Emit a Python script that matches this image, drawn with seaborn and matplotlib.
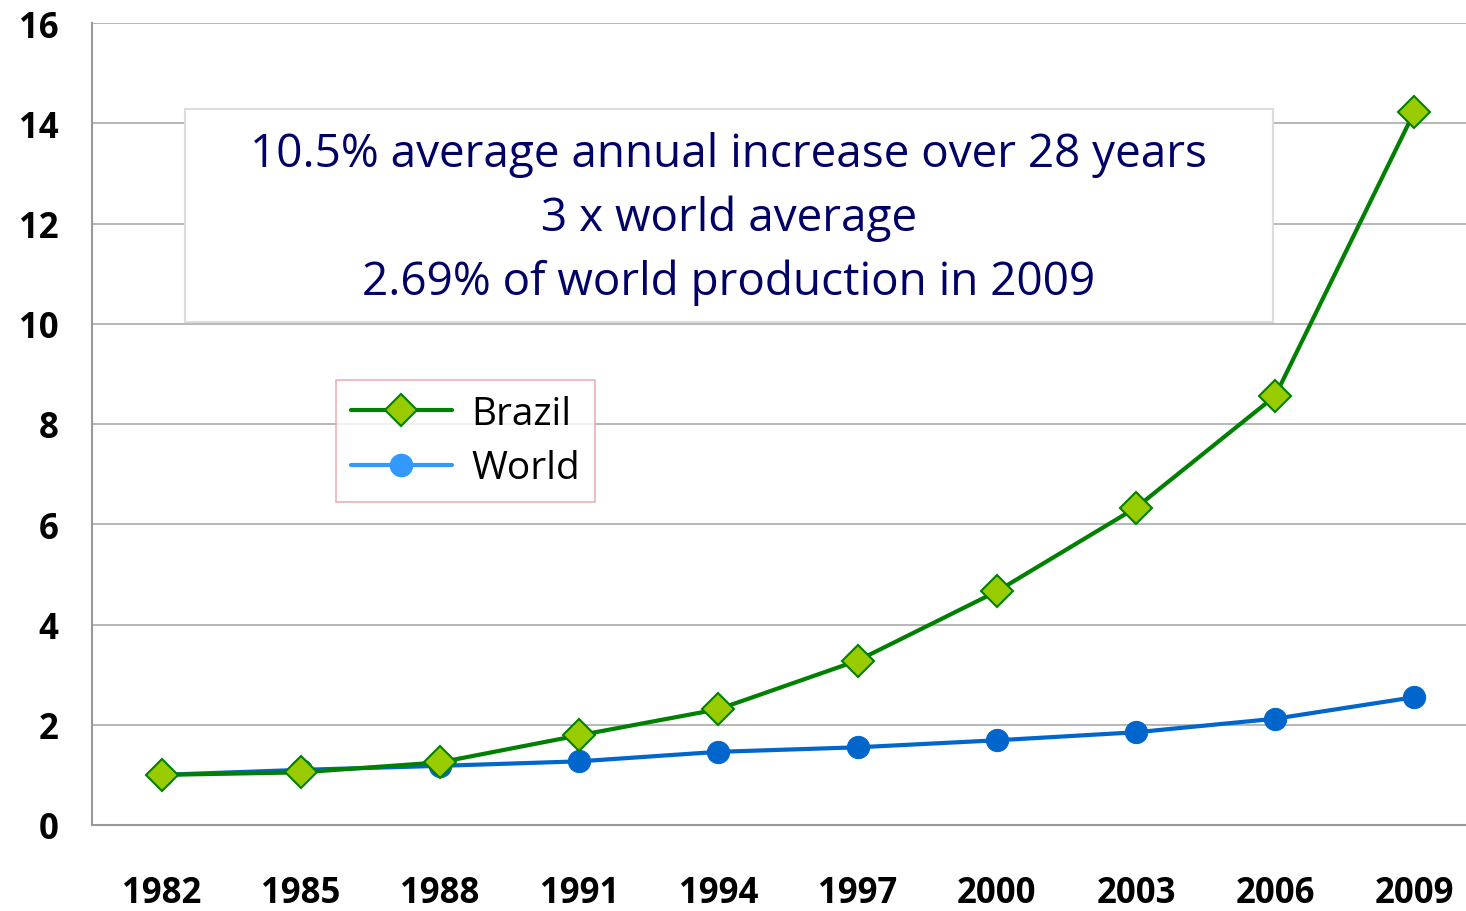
import pandas as pd
import matplotlib.pyplot as plt
import seaborn as sns
from matplotlib.lines import Line2D
from matplotlib.patches import Rectangle

years = ["1982", "1985", "1988", "1991", "1994", "1997", "2000", "2003", "2006", "2009"]
brazil = [1.0, 1.05, 1.25, 1.79, 2.31, 3.28, 4.66, 6.33, 8.56, 14.23]
world = [1.0, 1.1, 1.18, 1.27, 1.46, 1.55, 1.69, 1.85, 2.12, 2.55]

df = pd.DataFrame({"pos": list(range(len(years))) * 2,
                   "value": brazil + world,
                   "series": ["Brazil"] * len(years) + ["World"] * len(years)})

sns.set_style("white")
plt.rcParams["font.family"] = ["Open Sans", "DejaVu Sans"]

fig = plt.figure(figsize=(14.66, 9.12), dpi=100)
ax = fig.add_axes([92 / 1466, 86 / 912, 1392 / 1466, 802 / 912])

# world first so brazil sits on top
sns.lineplot(data=df[df.series == "World"], x="pos", y="value", ax=ax,
             color="#0066CC", linewidth=3, marker="o", markersize=16,
             markeredgecolor="#0066CC", markerfacecolor="#0066CC", legend=False)
sns.lineplot(data=df[df.series == "Brazil"], x="pos", y="value", ax=ax,
             color="#008000", linewidth=3, marker="D", markersize=16,
             markeredgecolor="#008000", markeredgewidth=1.5,
             markerfacecolor="#99CC00", legend=False)

ax.set_xlim(-0.5, len(years) - 0.5)
ax.set_ylim(0, 16)
ax.set_yticks(range(0, 17, 2))
ax.set_yticklabels([str(v) for v in range(0, 17, 2)], fontsize=25, fontweight="bold", color="black")
ax.set_xticks(range(len(years)))
ax.set_xticklabels(years, fontsize=25, fontweight="bold", color="black")
ax.set_xticks([i - 0.5 for i in range(len(years) + 1)], minor=True)
ax.tick_params(axis="x", which="major", length=0, pad=36)
ax.tick_params(axis="x", which="minor", length=12, color="#999999", width=1.2)
ax.tick_params(axis="y", length=8, color="#999999", width=1.2, pad=16)
ax.set_xlabel("")
ax.set_ylabel("")

ax.grid(axis="y", color="#AAAAAA", linewidth=1.2)
ax.set_axisbelow(True)
for s in ["top", "right"]:
    ax.spines[s].set_visible(False)
for s in ["left", "bottom"]:
    ax.spines[s].set_color("#999999")
    ax.spines[s].set_linewidth(1.5)

# legend with brighter world swatch
handles = [Line2D([], [], color="#008000", lw=3, marker="D", markersize=16,
                  markerfacecolor="#99CC00", markeredgecolor="#008000", markeredgewidth=1.5),
           Line2D([], [], color="#3399FF", lw=3, marker="o", markersize=16,
                  markerfacecolor="#3399FF", markeredgecolor="#3399FF")]
leg = ax.legend(handles, ["Brazil", "World"], loc="upper left",
                bbox_to_anchor=(244 / 1392, (826 - 381) / 802), fontsize=28,
                frameon=True, fancybox=False, handlelength=2.6, borderpad=0.38,
                borderaxespad=0, labelspacing=0.42, handletextpad=0.5,
                labelcolor="black")
leg.get_frame().set_edgecolor("#E8A0A0")
leg.get_frame().set_linewidth(1.2)

# annotation box
fig.patches.append(Rectangle((185 / 1466, 1 - 323 / 912), 1088 / 1466, 213 / 912,
                             transform=fig.transFigure, facecolor="white",
                             edgecolor="#DDDDDD", linewidth=1.5, zorder=5))
fig.text(729 / 1466, 1 - 219 / 912,
         "10.5% average annual increase over 28 years\n3 x world average\n2.69% of world production in 2009",
         ha="center", va="center", fontsize=33, color="#000066", linespacing=1.48, zorder=6)

fig.savefig("out.png", dpi=100)
